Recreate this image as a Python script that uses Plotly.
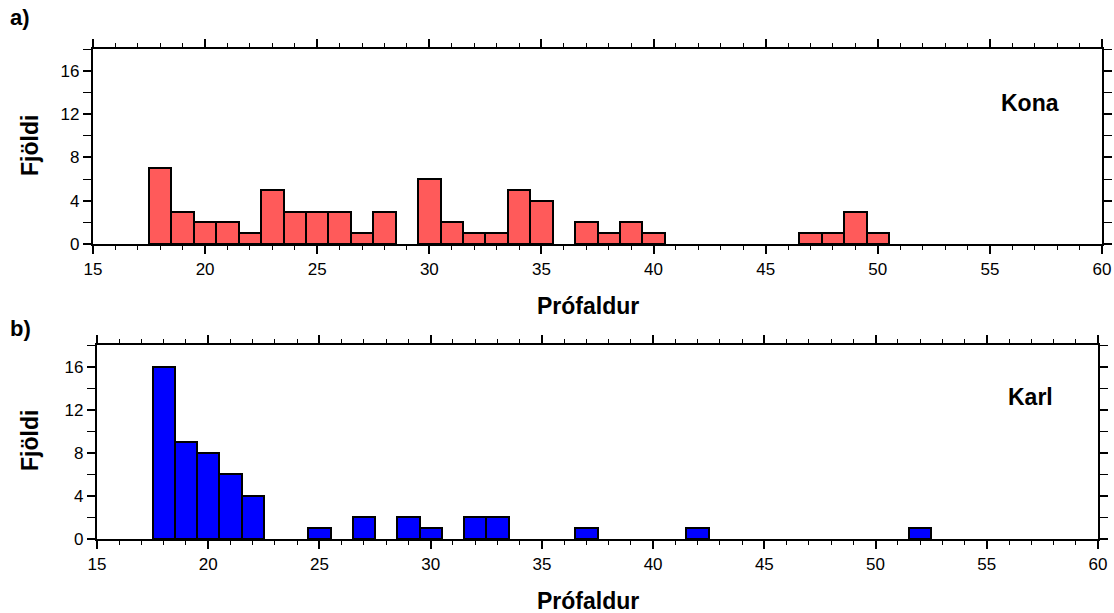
import plotly.graph_objects as go

# Data
kona_age = [18, 19, 20, 21, 22, 23, 24, 25, 26, 27, 28, 30, 31, 32, 33, 34, 35,
            37, 38, 39, 40, 47, 48, 49, 50]
kona_count = [7, 3, 2, 2, 1, 5, 3, 3, 3, 1, 3, 6, 2, 1, 1, 5, 4,
              2, 1, 2, 1, 1, 1, 3, 1]
karl_age = [18, 19, 20, 21, 22, 25, 27, 29, 30, 32, 33, 37, 42, 52]
karl_count = [16, 9, 8, 6, 4, 1, 2, 2, 1, 2, 2, 1, 1, 1]

x_ticks = [15, 20, 25, 30, 35, 40, 45, 50, 55, 60]
y_ticks = [0, 4, 8, 12, 16]

W, H = 1114, 613
FONT = "Liberation Sans, Arial, sans-serif"

fig = go.Figure()
fig.add_trace(go.Bar(x=kona_age, y=kona_count, width=1, xaxis="x", yaxis="y",
                     marker=dict(color="#FF5A5A", line=dict(color="black", width=2)),
                     showlegend=False))
fig.add_trace(go.Bar(x=karl_age, y=karl_count, width=1, xaxis="x2", yaxis="y2",
                     marker=dict(color="#0000FF", line=dict(color="black", width=2)),
                     showlegend=False))

def xax(dom, anchor):
    return dict(domain=dom, anchor=anchor, range=[15, 60], tickvals=x_ticks,
                ticks="outside", ticklen=8, tickwidth=1.8, tickcolor="black",
                showline=True, linecolor="black", linewidth=2.2, mirror="allticks",
                showgrid=False, zeroline=False, automargin=False,
                minor=dict(dtick=1, ticks="outside", ticklen=4, tickwidth=1.4,
                           tickcolor="black", showgrid=False),
                tickfont=dict(family=FONT, size=17, color="black"))

def yax(dom, anchor):
    return dict(domain=dom, anchor=anchor, range=[0, 18], tickvals=y_ticks,
                ticks="outside", ticklen=8, tickwidth=1.8, tickcolor="black",
                showline=True, linecolor="black", linewidth=2.2, mirror="allticks",
                showgrid=False, zeroline=False, automargin=False,
                minor=dict(dtick=2, ticks="outside", ticklen=8, tickwidth=1.4,
                           tickcolor="black", showgrid=False),
                tickfont=dict(family=FONT, size=17, color="black"))

fig.update_layout(
    width=W, height=H, autosize=False,
    margin=dict(l=0, r=0, t=0, b=0, pad=0),
    paper_bgcolor="white", plot_bgcolor="white",
    bargap=0,
    xaxis=xax([93 / W, 1102 / W], "y"),
    yaxis=yax([1 - 244 / H, 1 - 49 / H], "x"),
    xaxis2=xax([97 / W, 1098 / W], "y2"),
    yaxis2=yax([1 - 539 / H, 1 - 345 / H], "x2"),
)

def ann(text, x, y, size=23, angle=0):
    fig.add_annotation(text=f"<b>{text}</b>", x=x / W, y=1 - y / H, xref="paper", yref="paper",
                       showarrow=False, textangle=angle, xanchor="center", yanchor="middle",
                       font=dict(family=FONT, size=size, color="black"))

ann("a)", 20, 18, size=22)
ann("b)", 20, 328, size=22)
ann("Prófaldur", 588, 306)
ann("Prófaldur", 588, 601)
ann("Fjöldi", 30, 146, angle=-90)
ann("Fjöldi", 30, 441, angle=-90)
ann("Kona", 1030, 103)
ann("Karl", 1030, 397)

fig.write_html("out.html", config={"displayModeBar": False},
               post_script="document.body.style.margin='0';document.body.style.overflow='hidden';")
